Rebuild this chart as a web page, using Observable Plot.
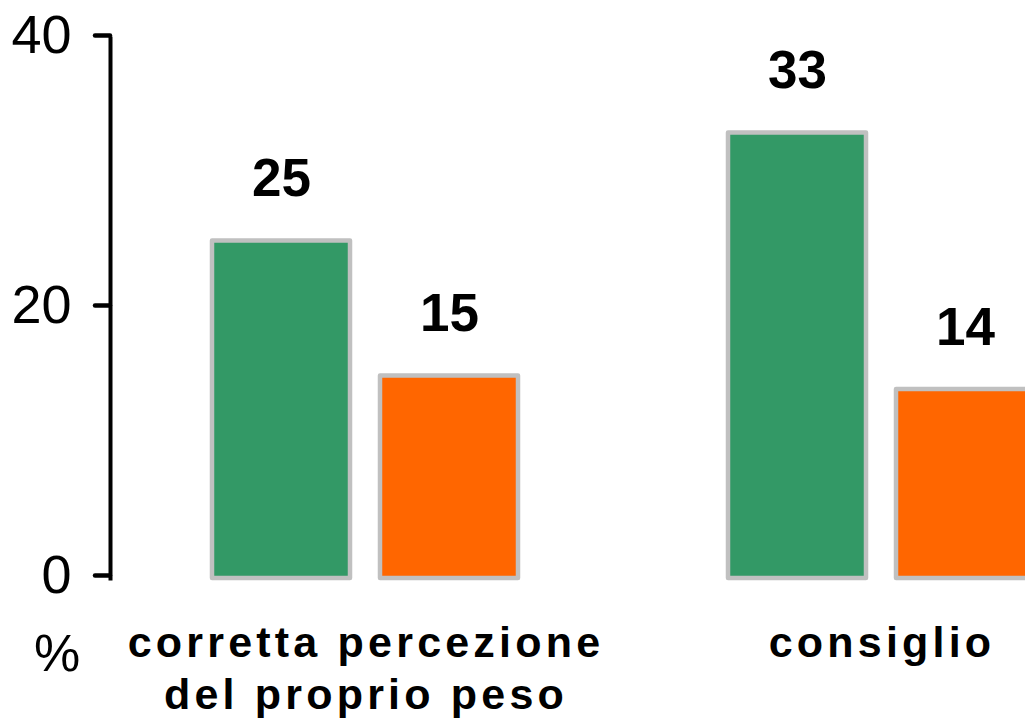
<!DOCTYPE html>
<html>
<head>
<meta charset="utf-8">
<script src="https://cdn.jsdelivr.net/npm/d3@7"></script>
<script src="https://cdn.jsdelivr.net/npm/@observablehq/plot@0.6"></script>
<style>
  html, body { margin: 0; padding: 0; background: #fff; overflow: hidden; }
  #chart { width: 1025px; height: 723px; overflow: hidden; }
  g[aria-description="cat"] text { letter-spacing: 4.2px; }
  g[aria-label="y-axis tick"] { stroke-width: 4.5px; stroke-linecap: round; }
  g[aria-label="y-axis tick"] path { stroke-width: 4.5px; stroke-linecap: round; }
</style>
</head>
<body>
<div id="chart"></div>
<script>
// ---- data ----
const categories = ["corretta percezione\ndel proprio peso", "consiglio"];
const seriesNames = ["serie 1", "serie 2"];
const series1Values = [25, 33];
const series2Values = [15, 14];
const yTicks = [0, 20, 40];
const unitLabel = ["%"];
const seriesColors = ["#339966", "#ff6600"];

const rows = [];
categories.forEach((c, i) => {
  rows.push({category: c, series: seriesNames[0], value: series1Values[i]});
  rows.push({category: c, series: seriesNames[1], value: series2Values[i]});
});

const font = "'Liberation Sans', Arial, sans-serif";

const chart = Plot.plot({
  width: 1140,
  height: 723,
  marginLeft: 110,
  marginRight: 3,
  marginTop: 38,
  marginBottom: 145,
  style: {fontFamily: font, maxWidth: "none", background: "white", color: "black"},
  fx: {domain: categories, paddingInner: 0.0097, paddingOuter: 0, axis: null},
  x: {domain: seriesNames, paddingInner: 0.1775, paddingOuter: 0.6006, axis: null},
  y: {domain: [0, 40], axis: null},
  color: {domain: seriesNames, range: seriesColors},
  marks: [
    Plot.barY(rows, {
      fx: "category", x: "series", y: "value",
      fill: "series", stroke: "#c0c0c0", strokeWidth: 4.5, strokeLinejoin: "round"
    }),
    Plot.text(rows, {
      fx: "category", x: "series", y: "value",
      text: d => String(d.value),
      lineAnchor: "bottom", dy: -45,
      fontSize: 53, fontWeight: "bold", fill: "black"
    }),
    Plot.frame({anchor: "left", facetAnchor: "left", stroke: "black", strokeWidth: 4}),
    Plot.axisY({
      ticks: yTicks, tickFormat: d => String(d), label: null,
      tickSize: 15, tickPadding: 24, fontSize: 54, dy: -3,
      stroke: "black", strokeWidth: 4.5, strokeLinecap: "round"
    }),
    Plot.text(categories, {
      fx: d => d, text: d => d,
      frameAnchor: "bottom", lineAnchor: "top", dy: 42, lineHeight: 1.2,
      fontSize: 43, fontWeight: "bold", fill: "black",
      ariaDescription: "cat"
    }),
    Plot.text(unitLabel, {
      fx: () => categories[0], text: d => d,
      frameAnchor: "bottom-left", lineAnchor: "bottom", textAnchor: "middle",
      dx: -53.5, dy: 92, fontSize: 52, fill: "black"
    })
  ]
});

document.getElementById("chart").appendChild(chart);
</script>
</body>
</html>
